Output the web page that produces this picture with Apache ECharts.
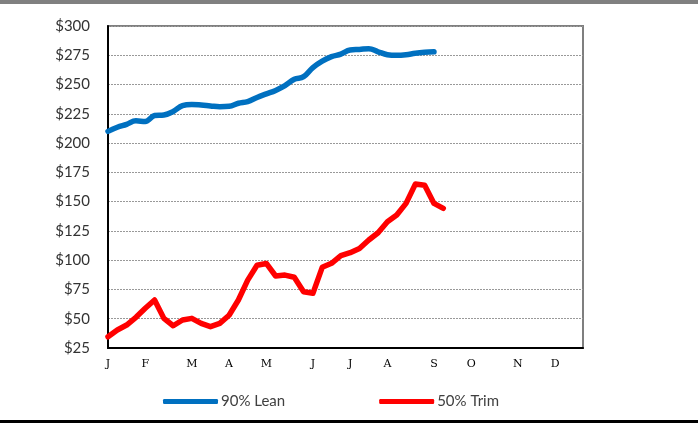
<!DOCTYPE html>
<html lang="en">
<head>
    <meta charset="UTF-8">
    <title>Lean vs Trim</title>
    <script src="https://cdn.jsdelivr.net/npm/echarts@6/dist/echarts.min.js"></script>
    <style>
        html, body { margin: 0; padding: 0; background: #fff; }
    </style>
</head>
<body>
    <div id="chart" style="width: 698px; height: 423px"></div>
    <script>
        // month letters and the week index each label sits on
        var monthLabels = ['J', 'F', 'M', 'A', 'M', 'J', 'J', 'A', 'S', 'O', 'N', 'D'];
        var monthWeeks = [0, 4, 9, 13, 17, 22, 26, 30, 35, 39, 44, 48];
        var weekCount = 52;

        // weekly prices
        var lean90 = [210, 213.5, 216, 219, 218.5, 223.5, 224, 227, 232, 233,
            232.5, 231.7, 231, 231.4, 234, 235.5, 239, 242, 245, 249,
            254.5, 256.7, 264.5, 270, 273.8, 276, 279.5, 280, 280.6, 278,
            275.5, 275, 275.5, 276.7, 277.5, 278];
        var trim50 = [34.6, 40.4, 44.6, 51.2, 58.9, 66, 50.3, 44, 48.9, 50.3,
            46, 43.2, 46, 53, 66, 83, 95.7, 97.2, 86.5, 87.3,
            85.4, 73, 71.7, 93.9, 97.3, 103.8, 106.4, 110, 117.2, 123.4,
            132.8, 138.6, 148.5, 165, 164, 148.5, 144.3];

        var weeks = [];
        for (var i = 0; i < weekCount; i++) {
            var k = monthWeeks.indexOf(i);
            weeks.push(k >= 0 ? monthLabels[k] : '');
        }

        var chart = echarts.init(document.getElementById('chart'));
        var option = {
            animation: false,
            graphic: [
                { type: 'rect', shape: { x: 0, y: 0, width: 698, height: 4 }, style: { fill: '#808080' } },
                { type: 'rect', shape: { x: 0, y: 420, width: 698, height: 3 }, style: { fill: '#000' } }
            ],
            grid: {
                left: 108,
                right: 115,
                top: 26,
                bottom: 75,
                show: true,
                borderColor: '#7f7f7f',
                borderWidth: 2
            },
            legend: {
                left: 158,
                top: 389,
                itemGap: 94,
                itemWidth: 55,
                itemHeight: 5,
                icon: 'roundRect',
                textStyle: { fontFamily: 'Lato', fontSize: 15, color: '#404040', padding: [0, 0, 0, -2] },
                data: ['90% Lean', '50% Trim']
            },
            xAxis: {
                type: 'category',
                data: weeks,
                boundaryGap: false,
                axisLine: { lineStyle: { color: '#000', width: 2 } },
                axisTick: { show: false },
                axisLabel: {
                    interval: 0,
                    margin: 11,
                    fontFamily: 'DejaVu Serif',
                    fontSize: 11,
                    color: '#000'
                },
                splitLine: { show: false }
            },
            yAxis: {
                type: 'value',
                min: 25,
                max: 300,
                interval: 25,
                axisLine: { show: true, lineStyle: { color: '#000', width: 2 } },
                axisTick: { show: false },
                axisLabel: {
                    margin: 18,
                    fontFamily: 'Lato',
                    fontSize: 15,
                    color: '#333',
                    formatter: function(v) { return '$' + v; }
                },
                splitLine: { lineStyle: { color: '#999', type: [2, 1], width: 1 } }
            },
            series: [{
                name: '90% Lean',
                type: 'line',
                data: lean90,
                smooth: 0.4,
                showSymbol: false,
                color: '#0070C0',
                lineStyle: { width: 5.5, color: '#0070C0', cap: 'round' }
            }, {
                name: '50% Trim',
                type: 'line',
                data: trim50,
                showSymbol: false,
                color: '#FF0000',
                lineStyle: { width: 5.5, color: '#FF0000', cap: 'round', join: 'round' }
            }]
        };
        chart.setOption(option);
    </script>
</body>
</html>
